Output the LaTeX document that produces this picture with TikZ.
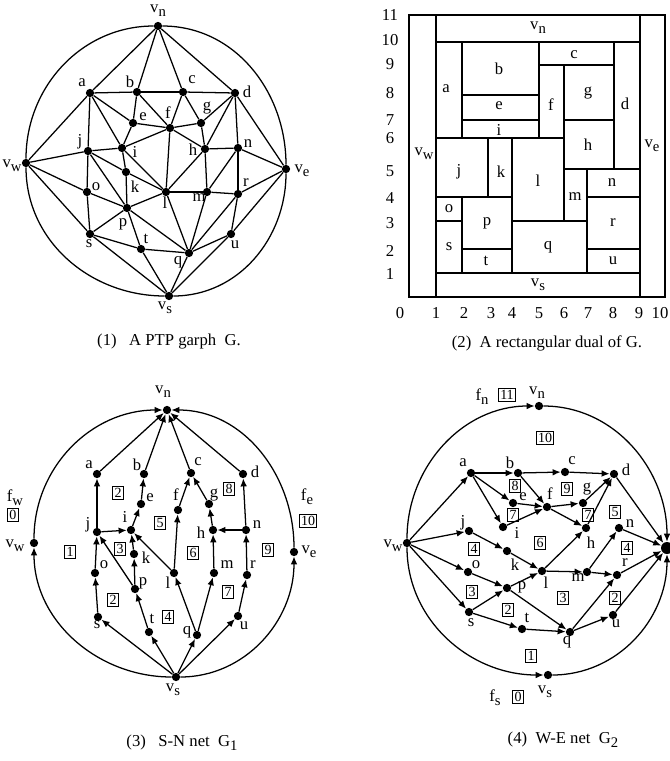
\documentclass[tikz,border=0pt]{standalone}
\usepackage{fontspec}
\setmainfont{Liberation Serif}
\usetikzlibrary{arrows.meta}
\newcommand\Sub[2]{#1\raisebox{-0.5ex}{\fontsize{11}{12}\selectfont #2}}
\newcommand\dotn[6]{\node[dot] (#1) at (#2,-#3) {}; \node[lab] (#1l) at (#4,-#5) {#6};}
\newcommand\fb[4]{\node[fbx] (#1) at (#2,-#3) {#4};}
\newcommand\rl[4]{\node[lab] (#1) at (#2,-#3) {#4};}
\begin{document}
\begin{tikzpicture}[x=0.75pt,y=0.75pt,
  dot/.style={circle,fill=black,inner sep=0pt,minimum size=6.2pt},
  lab/.style={inner sep=0pt,font=\fontsize{12.5}{14}\selectfont},
  captxt/.style={inner sep=0pt,font=\fontsize{12.5}{14}\selectfont},
  edge/.style={line width=0.95pt},
  arr/.style={line width=0.95pt,-{Latex[length=6pt,width=5pt]}},
  fbx/.style={draw,line width=0.7pt,inner sep=1.2pt,font=\fontsize{10.5}{11}\selectfont},
  rect/.style={draw,line width=2pt},
]
\useasboundingbox (0,0) rectangle (670,-761);

% ---------------- Panel 1 ----------------
\dotn{Avn}{158}{26}{158}{11}{\Sub{v}{n}}
\dotn{Aa}{90}{93}{82}{83}{a}
\dotn{Ab}{137}{92}{130}{82}{b}
\dotn{Ac}{183}{92}{192}{80}{c}
\dotn{Ad}{235}{93}{247}{92}{d}
\dotn{Ae}{133}{123}{143}{117}{e}
\dotn{Af}{170}{128}{168}{113}{f}
\dotn{Ag}{201}{123}{207}{108}{g}
\dotn{Aj}{88}{151}{80}{142}{j}
\dotn{Ai}{122}{148}{135}{152}{i}
\dotn{Ah}{205}{149}{193}{150}{h}
\dotn{An}{238}{148}{248}{144}{n}
\dotn{Avw}{26}{163}{12}{166}{\Sub{v}{w}}
\dotn{Ave}{286}{169}{302}{171}{\Sub{v}{e}}
\dotn{Ak}{126}{172}{135}{187}{k}
\dotn{Ao}{87}{192}{96}{187}{o}
\dotn{Al}{166}{192}{165}{203}{l}
\dotn{Am}{207}{192}{199}{198}{m}
\dotn{Ar}{238}{194}{246}{183}{r}
\dotn{Ap}{127}{208}{123}{224}{p}
\dotn{As}{90}{234}{89}{244}{s}
\dotn{Au}{231}{234}{235}{245}{u}
\dotn{At}{141}{249}{146}{239}{t}
\dotn{Aq}{189}{253}{178}{262}{q}
\dotn{Avs}{169}{296}{165}{308}{\Sub{v}{s}}
\draw[edge] (Avn) to[out=180,in=90] (Avw) to[out=-90,in=180] (Avs) to[out=0,in=-90] (Ave) to[out=90,in=0] (Avn);
\foreach \u/\v in {vn/a,vn/b,vn/c,vn/d,a/b,b/c,c/d,a/vw,a/j,a/i,a/e,b/e,b/f,c/f,c/g,d/g,d/h,d/n,d/ve,
  e/f,e/i,f/g,f/h,f/i,f/l,g/h,h/n,h/l,h/m,i/j,i/k,i/l,j/vw,j/o,j/p,j/k,k/l,k/p,l/m,l/p,l/q,
  m/n,m/r,m/q,n/r,n/ve,r/ve,r/q,r/u,u/ve,u/q,u/vs,q/t,q/p,q/vs,t/p,t/s,t/vs,s/p,s/o,s/vw,s/vs,o/p,o/vw}
  \draw[edge] (A\u) -- (A\v);
\node[captxt] (cap1) at (169,-342) {(1)\ \ \ A PTP garph\ \ G.};

% ---------------- Panel 2 ----------------
\draw[rect] (409,-15) rectangle (665,-297);
\draw[rect] (436,-15) rectangle (640,-297);
\draw[rect] (436,-42) rectangle (640,-273);
\draw[rect] (436,-42) rectangle (462,-138);
\draw[rect] (462,-42) rectangle (539,-95);
\draw[rect] (462,-95) rectangle (539,-120);
\draw[rect] (462,-120) rectangle (539,-138);
\draw[rect] (539,-42) rectangle (614,-65);
\draw[rect] (539,-65) rectangle (564,-138);
\draw[rect] (564,-65) rectangle (614,-120);
\draw[rect] (564,-120) rectangle (614,-169);
\draw[rect] (614,-42) rectangle (640,-169);
\draw[rect] (436,-138) rectangle (488,-197);
\draw[rect] (488,-138) rectangle (512,-197);
\draw[rect] (512,-138) rectangle (564,-221);
\draw[rect] (564,-169) rectangle (587,-221);
\draw[rect] (587,-169) rectangle (640,-197);
\draw[rect] (436,-197) rectangle (462,-221);
\draw[rect] (462,-197) rectangle (512,-249);
\draw[rect] (436,-221) rectangle (462,-273);
\draw[rect] (462,-249) rectangle (512,-273);
\draw[rect] (512,-221) rectangle (587,-273);
\draw[rect] (587,-197) rectangle (640,-249);
\draw[rect] (587,-249) rectangle (640,-273);
\rl{Bvn}{538}{28}{\Sub{v}{n}}
\rl{Ba}{446}{89}{a}
\rl{Bb}{499}{69}{b}
\rl{Be}{499}{106}{e}
\rl{Bi}{499}{130}{i}
\rl{Bc}{574}{55}{c}
\rl{Bf}{551}{105}{f}
\rl{Bg}{588}{93}{g}
\rl{Bd}{625}{104}{d}
\rl{Bve}{652}{146}{\Sub{v}{e}}
\rl{Bvw}{424}{154}{\Sub{v}{w}}
\rl{Bh}{588}{145}{h}
\rl{Bj}{459}{172}{j}
\rl{Bk}{501}{172}{k}
\rl{Bl}{538}{181}{l}
\rl{Bm}{575}{197}{m}
\rl{Bn}{612}{183}{n}
\rl{Bo}{449}{209}{o}
\rl{Bp}{487}{223}{p}
\rl{Bs}{449}{247}{s}
\rl{Bt}{486}{261}{t}
\rl{Bq}{548}{247}{q}
\rl{Br}{613}{223}{r}
\rl{Bu}{613}{261}{u}
\rl{Bvs}{538}{285}{\Sub{v}{s}}
\foreach \t/\yy in {11/15,10/40,9/64,8/93,7/120,6/138,5/171,4/198,3/223,2/251,1/274}
  \node[lab] (By\t) at (390,-\yy) {\t};
\foreach \t/\xx in {0/400,1/436,2/464,3/491,4/512,5/539,6/564,7/588,8/613,9/639,10/660}
  \node[lab] (Bx\t) at (\xx,-313) {\t};
\node[captxt] (cap2) at (547,-343) {(2)\ \ A rectangular dual of G.};

% ---------------- Panel 3 ----------------
\dotn{Cvn}{167}{410}{163}{392}{\Sub{v}{n}}
\dotn{Ca}{97}{474}{89}{465}{a}
\dotn{Cb}{144}{474}{137}{465}{b}
\dotn{Cc}{191}{473}{198}{462}{c}
\dotn{Cd}{243}{474}{255}{472}{d}
\dotn{Ce}{141}{504}{150}{498}{e}
\dotn{Cf}{178}{510}{176}{495}{f}
\dotn{Cg}{209}{504}{214}{495}{g}
\dotn{Cj}{97}{532}{88}{525}{j}
\dotn{Ci}{131}{530}{125}{517}{i}
\dotn{Ch}{213}{530}{201}{533}{h}
\dotn{Cn}{246}{530}{257}{525}{n}
\dotn{Ck}{134}{554}{146}{558}{k}
\dotn{Cvw}{34}{543}{15}{546}{\Sub{v}{w}}
\dotn{Cve}{294}{552}{309}{552}{\Sub{v}{e}}
\dotn{Co}{95}{573}{104}{565}{o}
\dotn{Cp}{135}{589}{143}{583}{p}
\dotn{Cl}{174}{573}{168}{583}{l}
\dotn{Cm}{214}{573}{227}{565}{m}
\dotn{Cr}{247}{575}{253}{565}{r}
\dotn{Cs}{98}{617}{97}{625}{s}
\dotn{Ct}{149}{632}{152}{619}{t}
\dotn{Cq}{197}{635}{187}{632}{q}
\dotn{Cu}{238}{616}{244}{626}{u}
\dotn{Cvs}{176}{677}{173}{690}{\Sub{v}{s}}
\draw[arr] (Cvs) to[out=180,in=-90] (Cvw);
\draw[arr] (Cvw) to[out=90,in=180] (Cvn);
\draw[arr] (Cvs) to[out=0,in=-90] (Cve);
\draw[arr] (Cve) to[out=90,in=0] (Cvn);
\foreach \u/\v in {vs/s,vs/t,vs/q,vs/u,s/o,o/j,t/p,p/k,p/j,k/i,j/i,l/i,j/a,i/e,e/b,q/l,l/f,f/c,
  q/m,m/h,h/g,g/c,n/h,u/r,r/n,n/d,a/vn,b/vn,c/vn,d/vn}
  \draw[arr] (C\u) -- (C\v);
\node[lab] (Cfw) at (15,-498) {\Sub{f}{w}};
\fb{Cb0}{13}{515}{0}
\node[lab] (Cfe) at (307,-497) {\Sub{f}{e}};
\fb{Cb10}{308}{521}{10}
\fb{Cb2a}{118}{493}{2}
\fb{Cb5}{160}{523}{5}
\fb{Cb3}{120}{549}{3}
\fb{Cb1}{70}{552}{1}
\fb{Cb6}{193}{553}{6}
\fb{Cb8}{229}{489}{8}
\fb{Cb9}{268}{550}{9}
\fb{Cb2b}{113}{600}{2}
\fb{Cb4}{168}{617}{4}
\fb{Cb7}{228}{592}{7}
\node[captxt] (cap3) at (182,-743) {(3)\ \ \ S-N net\ \ \Sub{G}{1}};

% ---------------- Panel 4 ----------------
\dotn{Dvn}{539}{406}{537}{393}{\Sub{v}{n}}
\dotn{Da}{471}{473}{463}{463}{a}
\dotn{Db}{518}{473}{510}{463}{b}
\dotn{Dc}{565}{472}{572}{461}{c}
\dotn{Dd}{614}{474}{626}{470}{d}
\dotn{De}{513}{503}{523}{497}{e}
\dotn{Df}{547}{507}{550}{494}{f}
\dotn{Dg}{583}{503}{587}{489}{g}
\dotn{Di}{503}{527}{517}{533}{i}
\dotn{Dj}{469}{531}{463}{523}{j}
\dotn{Dh}{586}{528}{591}{543}{h}
\dotn{Dn}{619}{528}{630}{524}{n}
\dotn{Dvw}{407}{543}{393}{546}{\Sub{v}{w}}
\dotn{Dk}{507}{551}{515}{565}{k}
\node[dot,minimum size=9pt] (Dve) at (667,-548) {};
\dotn{Do}{468}{572}{476}{565}{o}
\dotn{Dl}{542}{571}{546}{583}{l}
\dotn{Dm}{587}{572}{578}{578}{m}
\dotn{Dr}{617}{575}{625}{563}{r}
\dotn{Dp}{507}{588}{522}{587}{p}
\dotn{Ds}{469}{612}{471}{623}{s}
\dotn{Dt}{522}{629}{527}{618}{t}
\dotn{Dq}{570}{632}{567}{642}{q}
\dotn{Du}{613}{615}{616}{624}{u}
\dotn{Dvs}{548}{675}{545}{692}{\Sub{v}{s}}
\draw[arr] (Dvw) to[out=90,in=180] (Dvn);
\draw[arr] (Dvn) to[out=0,in=90] (Dve);
\draw[arr] (Dvw) to[out=-90,in=180] (Dvs);
\draw[arr] (Dvs) to[out=0,in=-90] (Dve);
\foreach \u/\v in {vw/a,vw/j,vw/o,vw/s,a/b,b/c,c/d,a/e,a/i,b/f,e/f,i/f,f/g,g/d,f/h,h/d,d/ve,
  j/k,k/l,o/p,s/p,p/l,l/h,l/m,m/n,n/ve,m/r,r/ve,p/q,s/t,t/q,q/r,q/u,u/ve}
  \draw[arr] (D\u) -- (D\v);
\node[lab] (Dfn) at (482,-397) {\Sub{f}{n}};
\fb{Db11}{507}{395}{11}
\fb{Db10}{545}{438}{10}
\fb{Db8}{515}{486}{8}
\fb{Db9}{567}{489}{9}
\fb{Db7a}{513}{515}{7}
\fb{Db7b}{588}{515}{7}
\fb{Db5}{615}{512}{5}
\fb{Db4a}{474}{549}{4}
\fb{Db6}{540}{543}{6}
\fb{Db4b}{627}{548}{4}
\fb{Db3a}{472}{592}{3}
\fb{Db3b}{563}{598}{3}
\fb{Db2b}{615}{598}{2}
\fb{Db2a}{508}{610}{2}
\fb{Db1}{531}{656}{1}
\node[lab] (Dfs) at (495,-698) {\Sub{f}{s}};
\fb{Db0}{518}{697}{0}
\node[captxt] (cap4) at (563,-740) {(4)\ \ W-E net\ \ \Sub{G}{2}};
\end{tikzpicture}
\end{document}
